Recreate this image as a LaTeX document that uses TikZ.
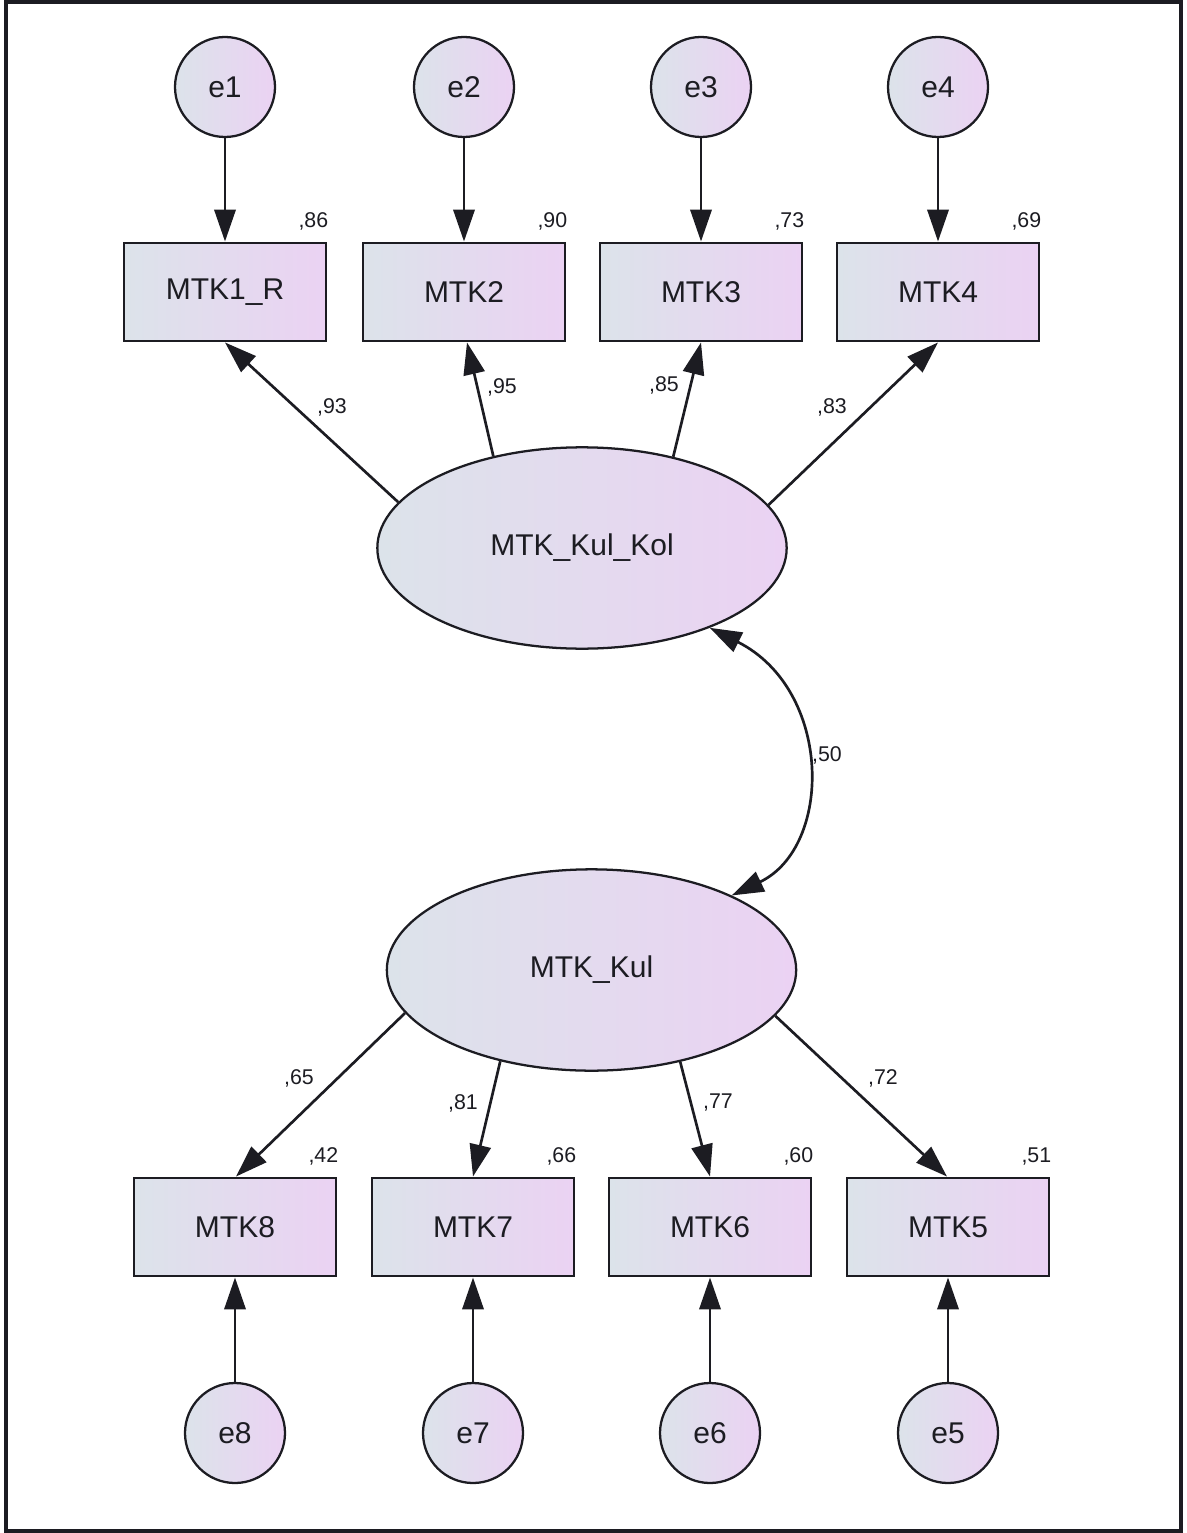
\documentclass[tikz,border=0pt]{standalone}
\usepackage{fontspec}
\setmainfont{Liberation Sans}
\usetikzlibrary{arrows.meta,calc,shapes.geometric}
\definecolor{fillL}{HTML}{DCE3EA}
\definecolor{fillR}{HTML}{EBD2F3}
\definecolor{ink}{HTML}{1C1C22}
\begin{document}
\begin{tikzpicture}[x=0.75pt,y=-0.75pt,
  shaded/.style={draw=ink, line width=1.7pt, left color=fillL, right color=fillR,
    inner sep=0pt, text=ink, font=\fontsize{22.5}{25}\selectfont},
  obs/.style={shaded, rectangle, minimum width=152pt, minimum height=74pt},
  lat/.style={shaded, ellipse, minimum width=307pt, minimum height=151pt},
  err/.style={shaded, circle, minimum size=75pt},
  coef/.style={text=ink, inner sep=0pt, font=\fontsize{16}{18}\selectfont},
  rsq/.style={coef, anchor=base east},
  tip/.tip={Triangle[length=24pt,width=16pt]},
  pathline/.style={line width=2pt, draw=ink, -tip},
  covline/.style={line width=2pt, draw=ink, tip-tip},
]
\useasboundingbox (0,0) rectangle (1187,1533);
\draw[line width=2.4pt, draw=ink] (6,2) rectangle (1181,1531);

% latent factors
\node[lat] (kk) at (582,548) {MTK\_Kul\_Kol};
\node[lat] (k)  at (591.5,970) {MTK\_Kul};

% indicators of the upper factor
\node[obs] (m1) at (225,292) {MTK1\_R};
\node[obs] (m2) at (464,292) {MTK2};
\node[obs] (m3) at (701,292) {MTK3};
\node[obs] (m4) at (938,292) {MTK4};

% indicators of the lower factor
\node[obs] (m8) at (235,1227) {MTK8};
\node[obs] (m7) at (473,1227) {MTK7};
\node[obs] (m6) at (710,1227) {MTK6};
\node[obs] (m5) at (948,1227) {MTK5};

% error terms
\node[err] (e1) at (225,87) {e1};
\node[err] (e2) at (464,87) {e2};
\node[err] (e3) at (701,87) {e3};
\node[err] (e4) at (938,87) {e4};
\node[err] (e8) at (235,1433) {e8};
\node[err] (e7) at (473,1433) {e7};
\node[err] (e6) at (710,1433) {e6};
\node[err] (e5) at (948,1433) {e5};

% error paths
\foreach \e/\m in {e1/m1,e2/m2,e3/m3,e4/m4}
  \draw[pathline] (\e.south) -- (\m.north);
\foreach \e/\m in {e8/m8,e7/m7,e6/m6,e5/m5}
  \draw[pathline] (\e.north) -- (\m.south);

% factor loadings
\draw[pathline] (kk.166.3) -- (m1.south);
\draw[pathline] (kk.134.7) -- ($(m2.south)+(3,0)$);
\draw[pathline] (kk.45.3)  -- (m3.south);
\draw[pathline] (kk.13.5)  -- (m4.south);
\draw[pathline] (k.193.4) -- ($(m8.north)+(1,0)$);
\draw[pathline] (k.225.2) -- (m7.north);
\draw[pathline] (k.314.8) -- (m6.north);
\draw[pathline] (k.346.6) -- ($(m5.north)+(-1,0)$);

% correlation between the factors
\draw[covline] (kk.328) .. controls (833,690) and (833,847) .. (k.28);
\node[coef] (r) at (827,755) {,50};

% loading estimates
\node[coef] (l1) at (332,407) {,93};
\node[coef] (l2) at (502,387) {,95};
\node[coef] (l3) at (664,385) {,85};
\node[coef] (l4) at (832,407) {,83};
\node[coef] (l8) at (299,1078) {,65};
\node[coef] (l7) at (463,1103) {,81};
\node[coef] (l6) at (718,1103) {,77};
\node[coef] (l5) at (883,1078) {,72};

% squared multiple correlations
\node[rsq] (r1) at ($(m1.north east)+(1,-14)$) {,86};
\node[rsq] (r2) at ($(m2.north east)+(1,-14)$) {,90};
\node[rsq] (r3) at ($(m3.north east)+(1,-14)$) {,73};
\node[rsq] (r4) at ($(m4.north east)+(1,-14)$) {,69};
\node[rsq] (r8) at ($(m8.north east)+(1,-14)$) {,42};
\node[rsq] (r7) at ($(m7.north east)+(1,-14)$) {,66};
\node[rsq] (r6) at ($(m6.north east)+(1,-14)$) {,60};
\node[rsq] (r5) at ($(m5.north east)+(1,-14)$) {,51};
\end{tikzpicture}
\end{document}
